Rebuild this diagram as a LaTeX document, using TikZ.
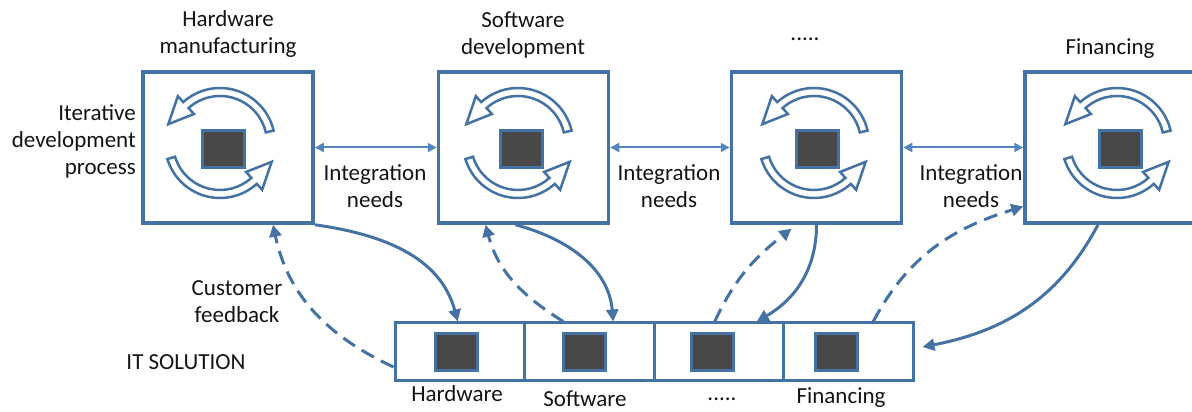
\documentclass[tikz,border=0pt]{standalone}
\usepackage{fontspec}
\setmainfont{Carlito}
\usetikzlibrary{arrows.meta,calc}
\definecolor{frame}{RGB}{68,114,163}
\definecolor{link}{RGB}{84,134,190}
\definecolor{core}{RGB}{72,72,72}
\definecolor{ink}{RGB}{20,20,20}
\tikzset{
  stage/.style={draw=frame, line width=3.5pt, fill=white, minimum width=170pt, minimum height=151pt, inner sep=0pt},
  cell/.style={draw=frame, line width=3pt, minimum width=129.5pt, minimum height=58pt, inner sep=0pt},
  corebox/.style={draw=frame, line width=3pt, fill=core, minimum width=42pt, minimum height=37pt, inner sep=0pt},
  lbl/.style={font=\fontsize{23}{27}\selectfont, text=ink, align=center, inner sep=0pt},
  flow/.style={draw=frame, line width=3pt, -{Triangle[length=12pt,width=12pt]}},
  back/.style={flow, dash pattern=on 14pt off 8pt},
  need/.style={draw=link, line width=2pt, {Triangle[length=9pt,width=9pt]}-{Triangle[length=9pt,width=9pt]}},
  cycarrow/.style={draw=frame, line width=2.5pt, fill=white, line join=miter},
  cyc/.pic={
    \path[cycarrow] (13:47) arc[start angle=13,end angle=132,radius=47]
      -- (132:39) -- (160:55) -- (132:63) -- (132:55)
      arc[start angle=132,end angle=13,radius=55] -- cycle;
    \path[cycarrow] (197:47) arc[start angle=197,end angle=312,radius=47]
      -- (312:39) -- (340:55) -- (312:63) -- (312:55)
      arc[start angle=312,end angle=197,radius=55] -- cycle;
  }
}
\begin{document}
\begin{tikzpicture}[x=1pt,y=1pt]
\useasboundingbox (0,0) rectangle (1192,412);

% development stages
\node[stage] (b1) at (228,264.5) {};
\node[stage] (b2) at (523.5,264.5) {};
\node[stage] (b3) at (816.5,264.5) {};
\node[stage, minimum width=172pt] (b4) at (1111,264.5) {};

% iteration cycles with their cores
\pic at (220,269) {cyc};
\pic at (518,269) {cyc};
\pic at (814,269) {cyc};
\pic at (1117,269) {cyc};
\node[corebox] (s1) at (223,263) {};
\node[corebox] (s2) at (521,263) {};
\node[corebox] (s3) at (817,263) {};
\node[corebox] (s4) at (1120,263) {};

% stage titles
\node[lbl] (t1) at (228,378) {Hardware\\manufacturing};
\node[lbl] (t2) at (523,377) {Software\\development};
\node[lbl, anchor=base] (t3) at (805,371) {.....};
\node[lbl] (t4) at (1110,363) {Financing};
\node[lbl, align=right, anchor=east] (it) at (136,271) {Iterative\\development\\process};

% integration needs between stages
\draw[need] (b1.east) -- (b2.west);
\draw[need] (b2.east) -- (b3.west);
\draw[need] (b3.east) -- (b4.west);
\node[lbl] (n1) at (375,226) {Integration\\needs};
\node[lbl] (n2) at (669,226) {Integration\\needs};
\node[lbl] (n3) at (971,226) {Integration\\needs};

% the IT solution strip
\node[cell] (c1) at (459.75,60) {};
\node[cell] (c2) at (589.25,60) {};
\node[cell] (c3) at (718.75,60) {};
\node[cell] (c4) at (848.25,60) {};
\node[corebox] (q1) at (456,60) {};
\node[corebox] (q2) at (584.5,60) {};
\node[corebox] (q3) at (712,60) {};
\node[corebox] (q4) at (836.5,60) {};
\node[lbl, anchor=base] (l1) at (457,10) {Hardware};
\node[lbl, anchor=base] (l2) at (585,5) {Software};
\node[lbl, anchor=base] (l3) at (722,11) {.....};
\node[lbl, anchor=base] (l4) at (841,8) {Financing};
\node[lbl] (sol) at (186,50) {IT SOLUTION};
\node[lbl] (fb) at (237,110) {Customer\\feedback};

% deliveries and feedback
\draw[flow] (b1.south east) to[out=-8,in=105] ([xshift=-2pt]c1.north);
\draw[back] ([yshift=-15pt]c1.west) to[out=155,in=-78] ([xshift=45pt]b1.south);
\draw[back] ([xshift=-26pt]c2.north) to[out=148,in=-75] ([xshift=-38pt]b2.south);
\draw[flow] ([xshift=-8pt]b2.south) to[out=-15,in=95] ([xshift=24pt]c2.north);
\draw[back] ([xshift=-4pt]c3.north) to[out=65,in=218] ([xshift=-25pt,yshift=-4pt]b3.south);
\draw[flow] (b3.south) to[out=-90,in=30] ([xshift=38pt]c3.north);
\draw[back] ([xshift=25pt]c4.north) to[out=62,in=197] ([yshift=-59pt]b4.west);
\draw[flow] ([xshift=-13pt]b4.south) to[out=-118,in=11] ([xshift=8pt,yshift=5pt]c4.east);
\end{tikzpicture}
\end{document}
